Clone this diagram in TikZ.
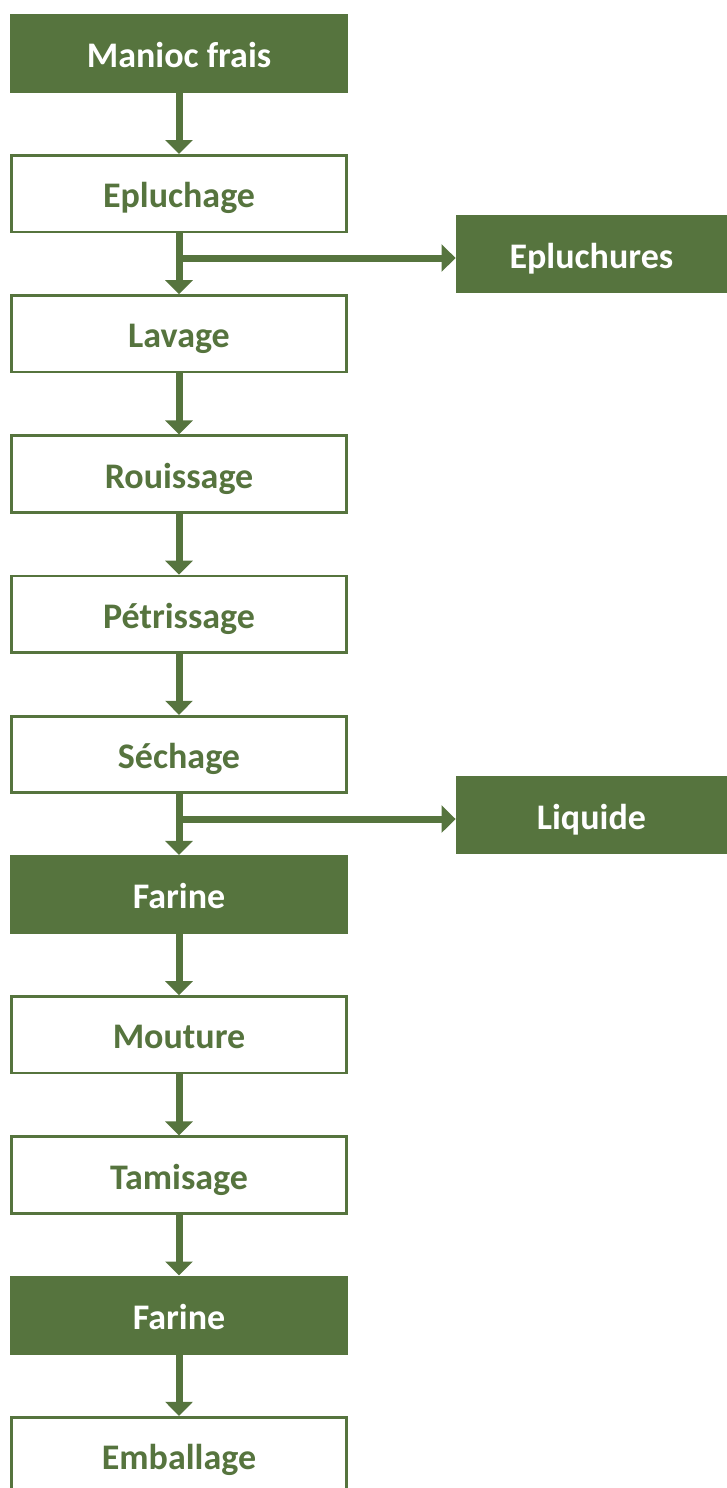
\documentclass[tikz,border=0pt]{standalone}
\usepackage{fontspec}
\setmainfont{Carlito}
\usetikzlibrary{arrows.meta}
\definecolor{leaf}{HTML}{56743E}

\begin{document}
\begin{tikzpicture}[x=1pt,y=-1pt,
  base/.style={inner sep=0pt,text height=30pt,text depth=2pt,
    font=\fontsize{36}{43}\selectfont\bfseries},
  stage/.style={base,minimum width=335.5pt,minimum height=76.5pt,
    draw=leaf,line width=2.7pt,fill=white,text=leaf},
  product/.style={base,minimum width=338pt,minimum height=79pt,
    fill=leaf,text=white},
  waste/.style={base,minimum width=271.3pt,minimum height=78.3pt,
    fill=leaf,text=white},
  flow/.style={draw=leaf,line width=7pt,
    -{Triangle[width=27pt,length=14pt]}}]

% page frame
\useasboundingbox (0,0) rectangle (727,1488);
\clip (0,0) rectangle (727,1488);

% main processing line
\node[product] (raw)    at (179,53.4)   {Manioc frais};
\node[stage]   (peel)   at (179,193.6)  {Epluchage};
\node[stage]   (wash)   at (179,333.8)  {Lavage};
\node[stage]   (ret)    at (179,474.0)  {Rouissage};
\node[stage]   (knead)  at (179,614.2)  {Pétrissage};
\node[stage]   (dry)    at (179,754.4)  {Séchage};
\node[product] (flourA) at (179,894.6)  {Farine};
\node[stage]   (mill)   at (179,1034.8) {Mouture};
\node[stage]   (sieve)  at (179,1175.0) {Tamisage};
\node[product] (flourB) at (179,1315.2) {Farine};
\node[stage]   (pack)   at (179,1455.4) {Emballage};

% by-products
\node[waste] (peelings) at (591.4,254.2) {Epluchures};
\node[waste] (liquid)   at (591.4,815.3) {Liquide};

% connectors
\draw[flow] (raw.south)    -- (peel.north);
\draw[flow] (peel.south)   -- (wash.north);
\draw[flow] (wash.south)   -- (ret.north);
\draw[flow] (ret.south)    -- (knead.north);
\draw[flow] (knead.south)  -- (dry.north);
\draw[flow] (dry.south)    -- (flourA.north);
\draw[flow] (flourA.south) -- (mill.north);
\draw[flow] (mill.south)   -- (sieve.north);
\draw[flow] (sieve.south)  -- (flourB.north);
\draw[flow] (flourB.south) -- (pack.north);

% side branches
\coordinate (forkA) at (179,258);
\coordinate (forkB) at (179,819);
\draw[flow] (forkA) -- (forkA -| peelings.west);
\draw[flow] (forkB) -- (forkB -| liquid.west);
\end{tikzpicture}
\end{document}
